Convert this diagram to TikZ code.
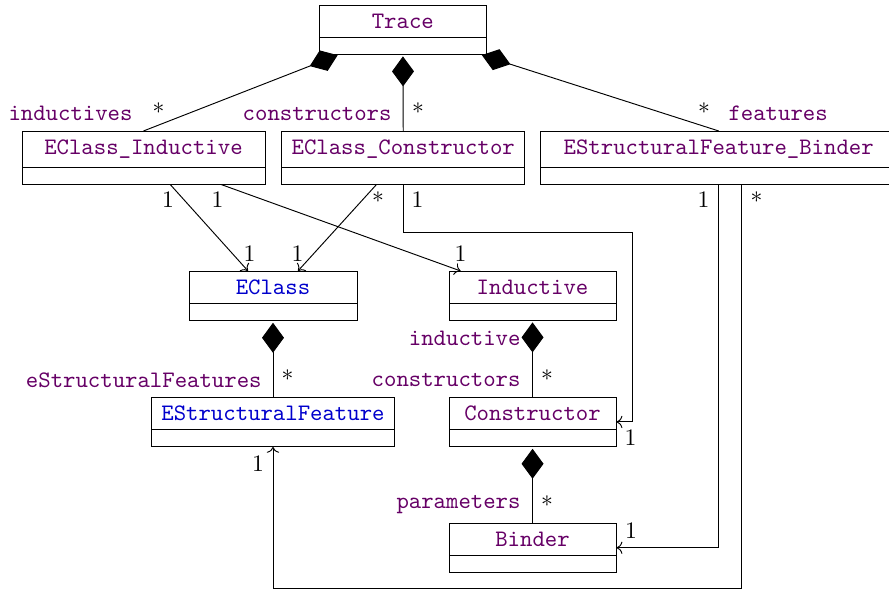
\documentclass[tikz,border=0pt]{standalone}
\usepackage{xcolor}
\usepackage{tikz}
\usetikzlibrary{shapes.multipart,arrows.meta}

\definecolor{umlpurple}{RGB}{102,0,102}
\definecolor{umlblue}{RGB}{0,0,204}

\tikzset{
  umlclass/.style={rectangle split, rectangle split parts=2, draw, anchor=north,
    inner xsep=0pt, inner ysep=3.4pt, align=center, font=\ttfamily, text=umlpurple},
  ecore/.style={text=umlblue},
  role/.style={font=\ttfamily, text=umlpurple, inner sep=0pt},
  mult/.style={inner sep=0pt, anchor=base},
  compo/.style={{Diamond[length=12.7pt,width=9.3pt]}-, shorten <=0.8pt},
}

\begin{document}
\begin{tikzpicture}
  \useasboundingbox (0,0) rectangle (13.228,8.794);

  % classes
  \node[umlclass, text width=2.495cm] (trace) at (5.994,8.720) {Trace \nodepart{two}};
  \node[umlclass, text width=3.616cm] (ci) at (2.135,6.845) {EClass\_Inductive \nodepart{two}};
  \node[umlclass, text width=3.61cm] (cc) at (6.000,6.845) {EClass\_Constructor \nodepart{two}};
  \node[umlclass, text width=5.318cm] (eb) at (10.694,6.845) {EStructuralFeature\_Binder \nodepart{two}};
  \node[umlclass, ecore, text width=2.5cm] (ecl) at (4.062,4.762) {EClass \nodepart{two}};
  \node[umlclass, text width=2.485cm] (ind) at (7.924,4.762) {Inductive \nodepart{two}};
  \node[umlclass, ecore, text width=3.616cm] (esf) at (4.062,2.887) {EStructuralFeature \nodepart{two}};
  \node[umlclass, text width=2.485cm] (con) at (7.924,2.887) {Constructor \nodepart{two}};
  \node[umlclass, text width=2.485cm] (bin) at (7.924,1.012) {Binder \nodepart{two}};

  % compositions
  \draw[compo] (trace) -- (ci.north);
  \draw[compo] (trace) -- (cc.north);
  \draw[compo] (trace) -- (eb.north);
  \draw[compo] (ecl) -- (esf);
  \draw[compo] (ind) -- (con);
  \draw[compo] (con) -- (bin);

  % associations
  \draw[->] (ci.-45) -- (ecl.135);
  \draw[->] (ci.-19) -- (ind.161);
  \draw[->] (cc.-135) -- (ecl.45);
  \coordinate (bendA) at (9.404,5.334);
  \draw[->] (cc.south) |- (bendA) |- (con.east);
  \draw[->] (eb.south) |- (bin.east);
  \coordinate (bendB) at (4.062,0.037);
  \draw[->] ([xshift=3.42mm]eb.south) |- (bendB) -- (esf.south);

  % roles and multiplicities
  \node[role, anchor=base east] (rInductives) at (1.979,6.994) {inductives};
  \node[mult] (mInductives) at (2.358,6.994) {*};
  \node[role, anchor=base east] (rConstructors) at (5.833,6.994) {constructors};
  \node[mult] (mConstructors) at (6.220,6.994) {*};
  \node[mult] (mFeatures) at (10.476,6.994) {*};
  \node[role, anchor=base west] (rFeatures) at (10.833,6.994) {features};

  \node[mult] (mCiEcl) at (2.500,5.699) {1};
  \node[mult] (mCiInd) at (3.236,5.699) {1};
  \node[mult] (mCcEcl) at (5.625,5.684) {*};
  \node[mult] (mCcCon) at (6.212,5.699) {1};
  \node[mult] (mEbBin) at (10.468,5.699) {1};
  \node[mult] (mEbEsf) at (11.257,5.684) {*};

  \node[mult] (mEclA) at (3.713,4.896) {1};
  \node[mult] (mEclB) at (4.427,4.896) {1};
  \node[mult] (mInd) at (6.852,4.896) {1};

  \node[role, anchor=base east] (rInductive) at (7.752,3.660) {inductive};
  \node[role, anchor=base east] (rFeats) at (3.899,3.021) {eStructuralFeatures};
  \node[mult] (mFeats) at (4.278,3.021) {*};
  \node[role, anchor=base east] (rCons) at (7.752,3.036) {constructors};
  \node[mult] (mCons) at (8.139,3.021) {*};

  \node[mult] (mEsf) at (3.839,1.771) {1};
  \node[mult] (mCon) at (9.382,2.158) {1};
  \node[role, anchor=base east] (rParams) at (7.752,1.235) {parameters};
  \node[mult] (mParams) at (8.139,1.146) {*};
  \node[mult] (mBin) at (9.389,0.774) {1};
\end{tikzpicture}
\end{document}
